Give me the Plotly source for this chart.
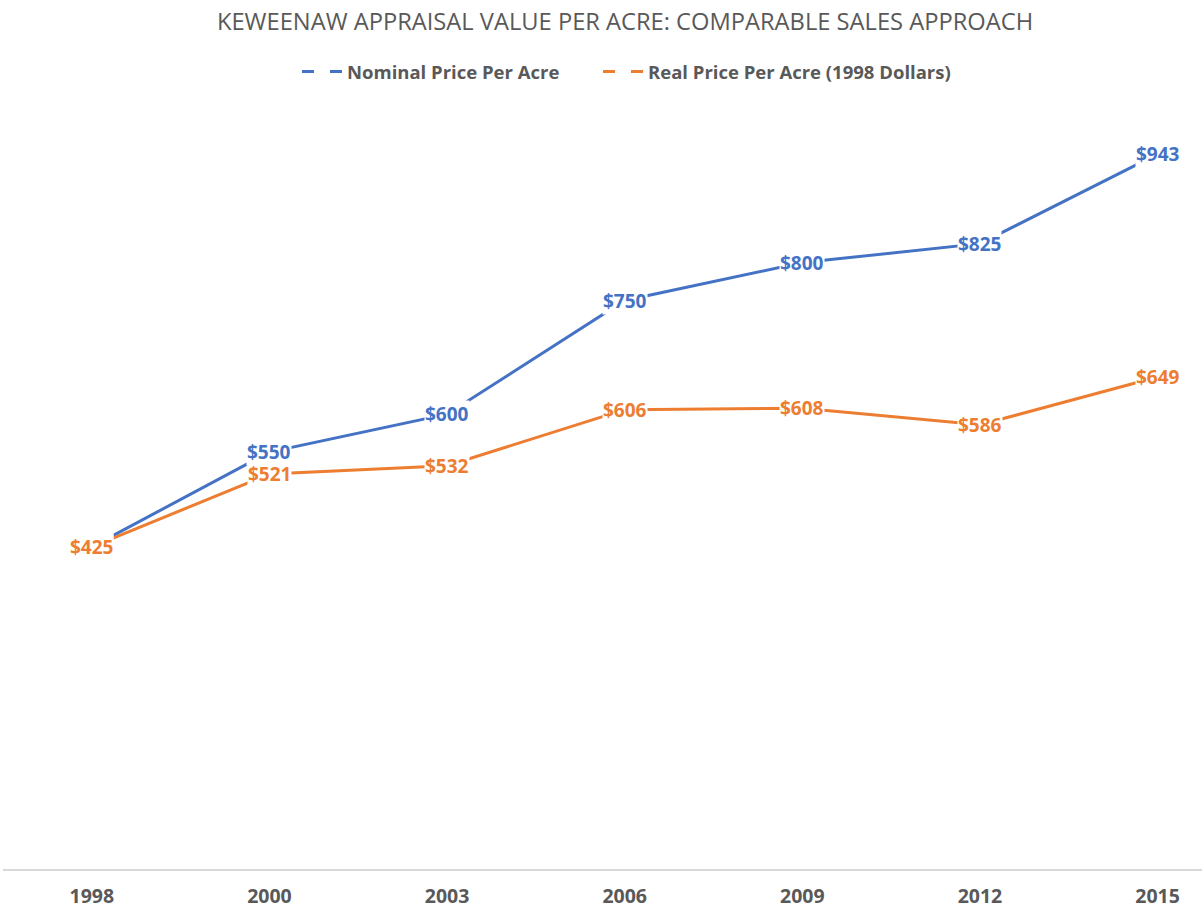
import plotly.graph_objects as go

years = ["1998", "2000", "2003", "2006", "2009", "2012", "2015"]
nominal = [425, 550, 600, 750, 800, 825, 943]
real = [425, 521, 532, 606, 608, 586, 649]

BLUE = "#4472C4"
ORANGE = "#ED7D31"
GRAY = "#595959"
FONT = "Open Sans, sans-serif"

fig = go.Figure()
series = [("Nominal Price Per Acre" + "\u00a0" * 7, nominal, BLUE),
          ("Real Price Per Acre (1998 Dollars)", real, ORANGE)]
for name, vals, col in series:
    fig.add_trace(go.Scatter(x=years, y=vals, mode="lines", line=dict(color=col, width=3),
                             showlegend=False, hoverinfo="skip"))
for name, vals, col in series:
    fig.add_trace(go.Scatter(x=[None], y=[None], mode="lines", name=name,
                             line=dict(color=col, width=3, dash="12px,16px")))
for name, vals, col in series:
    for i, v in enumerate(vals):
        fig.add_annotation(x=i, y=v, xref="x", yref="y", text=f"<b>${v}</b>", showarrow=False,
                           bgcolor="white", borderpad=0,
                           font=dict(color=col, size=19, family=FONT))

fig.update_layout(
    width=1202, height=909,
    margin=dict(l=3, r=0, t=111, b=40),
    paper_bgcolor="white", plot_bgcolor="white",
    title=dict(text="KEWEENAW APPRAISAL VALUE PER ACRE: COMPARABLE SALES APPROACH",
               x=0.52, xanchor="center", y=1 - 22 / 909, yanchor="middle",
               font=dict(size=23.7, color=GRAY, family=FONT)),
    legend=dict(orientation="h", x=0.52, xanchor="center", y=1 + 39 / 758, yanchor="middle",
                font=dict(size=18.5, color=GRAY, family=FONT, weight="bold"),
                itemwidth=40, bgcolor="rgba(0,0,0,0)"),
    xaxis=dict(type="category", range=[-0.5, 6.25], showgrid=False, zeroline=False,
               showline=True, linecolor="#D9D9D9", linewidth=1.5, automargin=False,
               ticks="", ticklabelstandoff=9,
               tickfont=dict(size=19.5, color=GRAY, family=FONT, weight="bold")),
    yaxis=dict(range=[0, 1000], visible=False, showgrid=False, zeroline=False, automargin=False),
)
fig.write_html("out.html", config={"displayModeBar": False},
               post_script="document.body.style.margin='0';")
